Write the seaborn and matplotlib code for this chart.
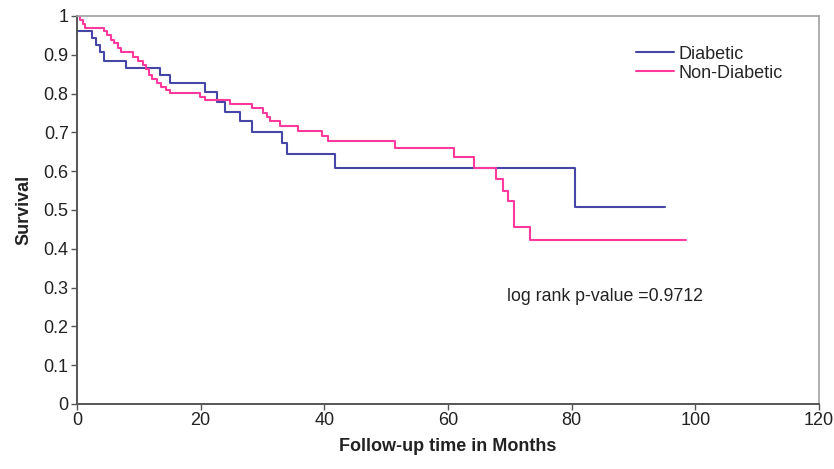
import numpy as np
import pandas as pd
import matplotlib
matplotlib.use("Agg")
import matplotlib.pyplot as plt
import seaborn as sns

# Kaplan-Meier steps (time in months, survival)
diab_time = [0, 2.4, 3.1, 3.7, 4.3, 8.0, 13.4, 15.0, 20.7, 22.6, 23.9, 26.4,
             28.3, 33.1, 34.0, 41.7, 80.5, 95.1]
diab_surv = [0.962, 0.942, 0.925, 0.908, 0.885, 0.865, 0.848, 0.828, 0.805, 0.779,
             0.753, 0.728, 0.702, 0.672, 0.644, 0.607, 0.507, 0.507]

nondiab_time = [0, 0.5, 0.9, 1.3, 4.3, 4.9, 5.5, 6.0, 6.6, 7.1,
                9.1, 9.9, 10.7, 11.2, 11.7, 12.2, 12.9, 13.6, 14.4, 15.0,
                19.9, 20.7, 24.7, 28.3, 30.1, 30.7, 31.2, 32.8, 35.8, 39.6,
                40.6, 51.4, 60.9, 64.2, 67.8, 68.9, 69.7, 70.7, 73.2, 98.5]
nondiab_surv = [1.0, 0.99, 0.98, 0.968, 0.960, 0.951, 0.938, 0.930, 0.917, 0.906,
                0.895, 0.885, 0.874, 0.863, 0.848, 0.838, 0.827, 0.816, 0.809, 0.801,
                0.79, 0.784, 0.773, 0.762, 0.749, 0.739, 0.728, 0.716, 0.704, 0.691,
                0.679, 0.659, 0.636, 0.607, 0.579, 0.549, 0.523, 0.457, 0.423, 0.423]

groups = ["Diabetic", "Non-Diabetic"]
colors = {"Diabetic": "#4646a6", "Non-Diabetic": "#ff3a9c"}

df = pd.concat([
    pd.DataFrame({"time": diab_time, "surv": diab_surv, "group": groups[0]}),
    pd.DataFrame({"time": nondiab_time, "surv": nondiab_surv, "group": groups[1]}),
])

sns.set_style("white")
plt.rcParams["font.family"] = ["Liberation Sans", "DejaVu Sans"]
fs = 13

fig = plt.figure(figsize=(8.34, 4.69), dpi=100)
ax = fig.add_axes([0.0923, 0.1386, 0.8897, 0.8274])

sns.lineplot(data=df, x="time", y="surv", hue="group", palette=colors,
             drawstyle="steps-post", estimator=None, linewidth=1.5, ax=ax)

ax.set_xlim(0, 120)
ax.set_ylim(0, 1)
ax.set_xticks(np.arange(0, 121, 20))
ax.set_yticks(np.arange(0, 1.01, 0.1))
ax.set_yticklabels(["0", "0.1", "0.2", "0.3", "0.4", "0.5", "0.6", "0.7", "0.8", "0.9", "1"])
ax.tick_params(direction="out", length=4, width=1, color="#555555",
               labelsize=fs, pad=2, left=True, bottom=True, labelcolor="#222222")

for s in ["left", "bottom"]:
    ax.spines[s].set_color("#555555")
    ax.spines[s].set_linewidth(1.4)
for s in ["top", "right"]:
    ax.spines[s].set_color("#a0a0a0")
    ax.spines[s].set_linewidth(1.2)

ax.set_xlabel("Follow-up time in Months", fontsize=fs, fontweight="bold",
              labelpad=6, color="#222222")
ax.set_ylabel("Survival", fontsize=fs, fontweight="bold", labelpad=8, color="#222222")

ax.text(69.5, 0.276, "log rank p-value =0.9712", fontsize=12.8, va="center",
        color="#222222")

ax.legend(loc="upper left", bbox_to_anchor=(0.731, 0.965), frameon=False,
          fontsize=fs, handlelength=2.1, handletextpad=0.25, labelspacing=0.1)

fig.savefig("out.png", dpi=100)
